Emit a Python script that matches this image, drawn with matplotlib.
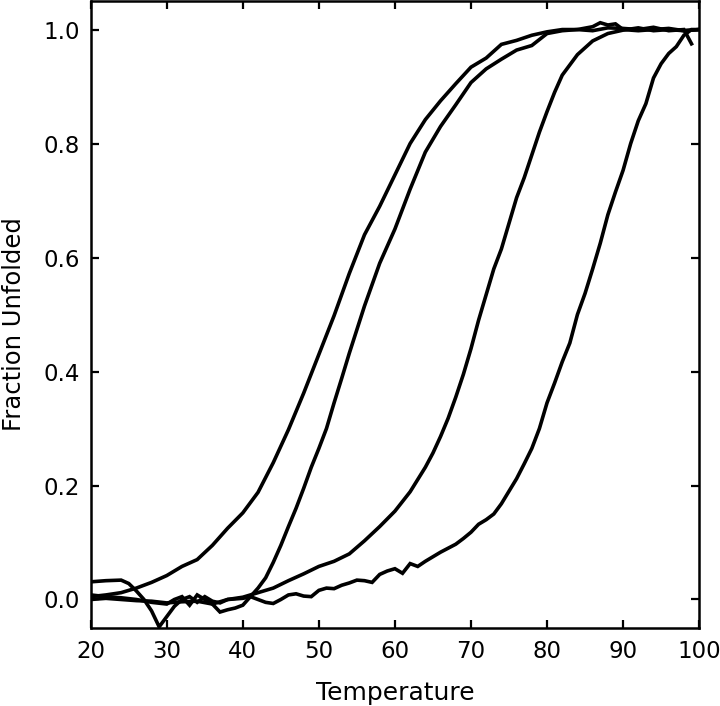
import matplotlib
matplotlib.use("Agg")
import matplotlib.pyplot as plt

# melt curves (temperature, fraction unfolded)
t1 = [20, 22, 24, 26, 28, 30, 32, 34, 36, 38, 40, 42, 44, 46, 48, 50, 52, 54, 56, 58,
      60, 62, 64, 66, 68, 70, 72, 74, 76, 78, 80, 82, 84, 86, 88, 90, 92, 94, 96, 98, 99]
f1 = [0.005, 0.008, 0.012, 0.02, 0.03, 0.042, 0.058, 0.07, 0.095, 0.125, 0.152, 0.188,
      0.24, 0.298, 0.362, 0.43, 0.498, 0.572, 0.64, 0.69, 0.745, 0.80, 0.842, 0.875,
      0.905, 0.934, 0.95, 0.974, 0.981, 0.99, 0.996, 1.0, 1.0, 0.998, 1.003, 1.002,
      1.0, 1.004, 0.998, 1.0, 0.975]

t2 = [20, 22, 24, 26, 28, 30, 31, 32, 33, 34, 35, 36, 37, 38, 39, 40, 41, 42, 43, 44,
      45, 46, 47, 48, 49, 50, 51, 52, 53, 54, 56, 58, 60, 62, 64, 66, 68, 70, 72, 74,
      76, 78, 80, 82, 84, 86, 87, 88, 89, 90, 92, 94, 96, 98, 100]
f2 = [0.008, 0.005, 0.003, 0.0, -0.005, -0.008, 0.0, 0.005, -0.01, 0.008, 0.0, -0.008,
      -0.022, -0.018, -0.015, -0.01, 0.005, 0.02, 0.038, 0.065, 0.095, 0.128, 0.16,
      0.195, 0.232, 0.265, 0.30, 0.345, 0.388, 0.432, 0.515, 0.59, 0.65, 0.72, 0.785,
      0.83, 0.868, 0.907, 0.931, 0.948, 0.964, 0.972, 0.993, 0.998, 1.0, 1.005, 1.012,
      1.008, 1.01, 1.0, 0.998, 1.0, 1.002, 0.998, 1.0]

t3 = [20, 22, 24, 25, 26, 27, 28, 29, 30, 31, 32, 33, 34, 35, 36, 37, 38, 40, 42, 44,
      46, 48, 50, 52, 54, 56, 58, 60, 62, 64, 65, 66, 67, 68, 69, 70, 71, 72, 73, 74,
      75, 76, 77, 78, 79, 80, 81, 82, 84, 86, 88, 90, 92, 94, 96, 98, 100]
f3 = [0.031, 0.033, 0.034, 0.028, 0.015, 0.0, -0.02, -0.048, -0.03, -0.012, 0.0, 0.005,
      -0.005, 0.005, -0.003, -0.006, 0.0, 0.004, 0.012, 0.02, 0.033, 0.045, 0.058,
      0.067, 0.08, 0.103, 0.128, 0.155, 0.189, 0.232, 0.257, 0.286, 0.318, 0.355,
      0.395, 0.44, 0.49, 0.535, 0.58, 0.615, 0.66, 0.705, 0.74, 0.78, 0.82, 0.856,
      0.89, 0.92, 0.956, 0.98, 0.993, 0.999, 1.003, 0.998, 1.0, 0.998, 1.0]

t4 = [20, 22, 24, 26, 28, 30, 32, 34, 36, 38, 40, 41, 42, 43, 44, 45, 46, 47, 48, 49,
      50, 51, 52, 53, 54, 55, 56, 57, 58, 59, 60, 61, 62, 63, 64, 65, 66, 67, 68, 69,
      70, 71, 72, 73, 74, 75, 76, 77, 78, 79, 80, 81, 82, 83, 84, 85, 86, 87, 88, 89,
      90, 91, 92, 93, 94, 95, 96, 97, 98, 99, 100]
f4 = [0.0, 0.002, 0.0, -0.002, -0.003, -0.006, -0.004, -0.003, -0.008, 0.0, 0.002,
      0.005, 0.0, -0.005, -0.007, 0.0, 0.008, 0.01, 0.006, 0.005, 0.016, 0.02, 0.019,
      0.025, 0.029, 0.034, 0.033, 0.03, 0.044, 0.05, 0.054, 0.046, 0.063, 0.058, 0.067,
      0.075, 0.083, 0.09, 0.097, 0.107, 0.118, 0.132, 0.14, 0.15, 0.168, 0.19, 0.212,
      0.238, 0.265, 0.30, 0.345, 0.38, 0.417, 0.45, 0.50, 0.537, 0.58, 0.625, 0.675,
      0.715, 0.753, 0.80, 0.84, 0.87, 0.915, 0.94, 0.958, 0.97, 0.99, 1.0, 1.0]

x_ticks = [20, 30, 40, 50, 60, 70, 80, 90, 100]
y_ticks = [0.0, 0.2, 0.4, 0.6, 0.8, 1.0]

fig = plt.figure(figsize=(7.2, 7.06), dpi=100)
ax = fig.add_axes([0.126, 0.1105, 0.845, 0.888])

for t, f in [(t1, f1), (t2, f2), (t3, f3), (t4, f4)]:
    ax.plot(t, f, color='black', lw=2.6, solid_joinstyle='miter')

ax.set_xlim(20, 100)
ax.set_ylim(-0.05, 1.05)
ax.set_xticks(x_ticks)
ax.set_yticks(y_ticks)
ax.set_yticklabels(['%.1f' % v for v in y_ticks])
ax.tick_params(direction='in', top=True, right=True, length=6, width=1.6,
               labelsize=16.5)
ax.tick_params(axis='x', pad=9)
ax.tick_params(axis='y', pad=8)
for s in ax.spines.values():
    s.set_linewidth(1.8)

ax.set_xlabel('Temperature', fontsize=18)
ax.set_ylabel('Fraction Unfolded', fontsize=17.5)
ax.xaxis.set_label_coords(0.5, -0.085)
ax.yaxis.set_label_coords(-0.106, 0.485)

fig.savefig('out.png', dpi=100)
